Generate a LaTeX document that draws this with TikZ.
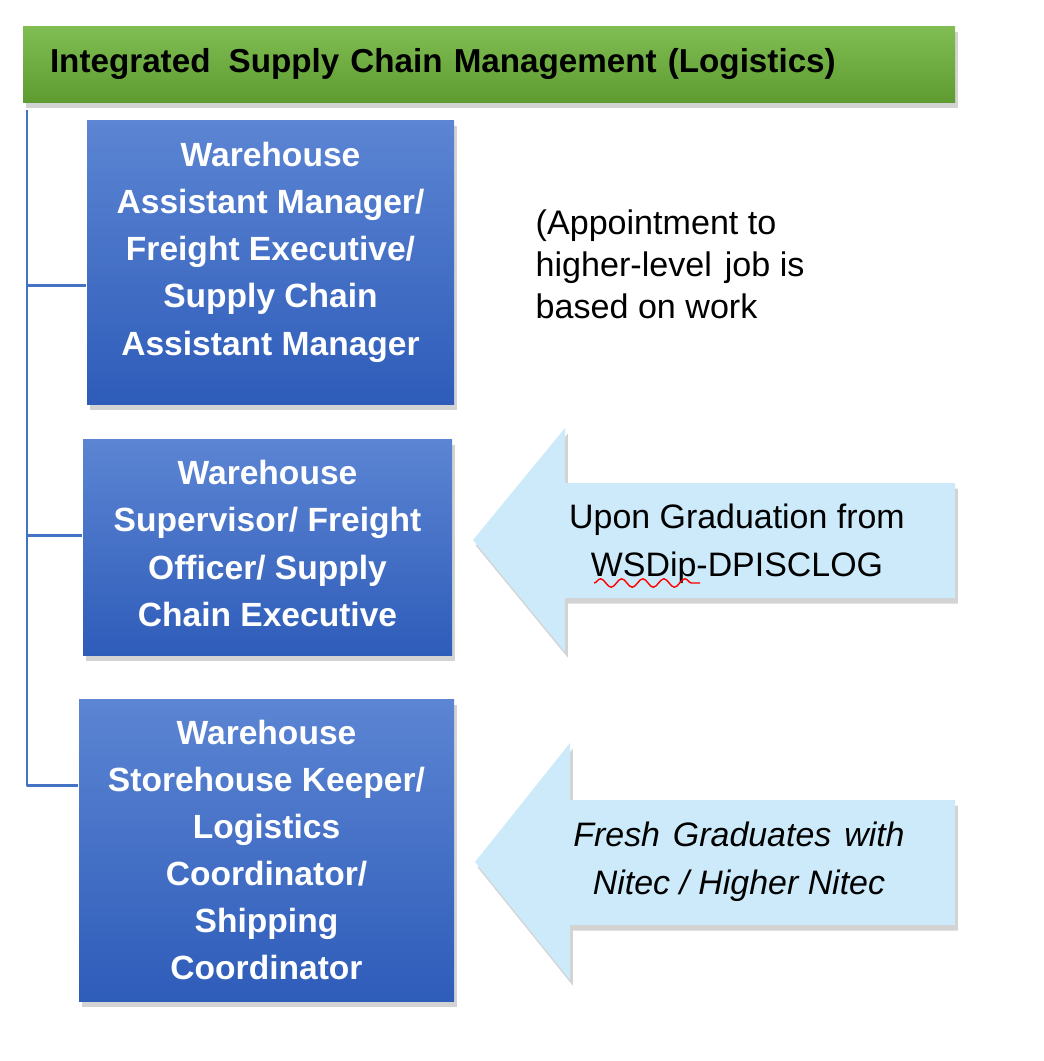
\documentclass[tikz,border=0pt]{standalone}
\usepackage{fontspec}
\setmainfont{Liberation Sans}
\usetikzlibrary{shadows,decorations.pathmorphing}

\definecolor{hdrtop}{HTML}{80BE53}
\definecolor{hdrbot}{HTML}{5E9C32}
\definecolor{boxtop}{HTML}{5C85D3}
\definecolor{boxbot}{HTML}{2E5CB9}
\definecolor{arrowfill}{HTML}{CCEAF9}
\definecolor{linkblue}{HTML}{4472C4}

\tikzset{
  softshadow/.style={drop shadow={shadow xshift=.8pt, shadow yshift=-1.6pt, opacity=.35}},
  hdrbar/.style={rectangle, top color=hdrtop, bottom color=hdrbot, softshadow,
    minimum width=93.2mm, minimum height=7.6mm, text width=87.8mm, inner xsep=2.7mm,
    align=left, font=\fontsize{9.45}{11}\selectfont\bfseries},
  jobbox/.style={rectangle, top color=boxtop, bottom color=boxbot, softshadow,
    text=white, align=center, inner sep=0pt,
    font=\fontsize{9.55}{13.4}\selectfont\bfseries},
  link/.style={draw=linkblue, line width=.85pt, line join=round},
  pointer/.style={fill=arrowfill, softshadow}
}

\begin{document}
\begin{tikzpicture}[x=0.1mm,y=-0.1mm]
  \useasboundingbox (0,0) rectangle (1044,1061);

  % header and job boxes
  \node[hdrbar] (hdr) at (489,64) {Integrated\hspace{2pt} Supply Chain Management (Logistics)};

  \begin{scope}[every node/.style={jobbox}]
    \node[minimum width=36.7mm, minimum height=28.4mm] (mgr) at (270.5,262)
      {Warehouse\\Assistant Manager/\\Freight Executive/\\Supply Chain\\Assistant Manager\\[-5.8pt]\mbox{}};
    \node[minimum width=36.9mm, minimum height=21.6mm] (sup) at (267.5,547)
      {Warehouse\\Supervisor/ Freight\\Officer/ Supply\\Chain Executive\\[-11.3pt]\mbox{}};
    \node[minimum width=37.5mm, minimum height=30.2mm] (kpr) at (266.5,850)
      {Warehouse\\Storehouse Keeper/\\Logistics\\Coordinator/\\Shipping\\Coordinator};
  \end{scope}

  % tree lines
  \coordinate (top) at (27,110);
  \coordinate (t1) at (27,285);
  \coordinate (t2) at (27,535);
  \coordinate (t3) at (27,785);
  \draw[link] (top) -- (t3) -- (t3 -| kpr.west);
  \draw[link] (t1) -- (t1 -| mgr.west);
  \draw[link] (t2) -- (t2 -| sup.west);

  % entry arrows
  \path[pointer] (955,483) -- (565,483) -- (565,428) -- (473,540)
    -- (565,652) -- (565,598) -- (955,598) -- cycle;
  \path[pointer] (955,800) -- (570,800) -- (570,743) -- (475,862)
    -- (570,980) -- (570,925) -- (955,925) -- cycle;

  \begin{scope}[every node/.style={align=center, font=\fontsize{9.65}{13.7}\selectfont}]
    \node (grad) at (737,544) {Upon Graduation from\\WSDip-DPISCLOG};
    \node (fresh) at (739,862) {\itshape Fresh\hspace{1pt} Graduates\hspace{1pt} with\\\itshape Nitec / Higher Nitec};
  \end{scope}
  \draw[red, line width=.4pt, decorate, decoration={snake, amplitude=1.2, segment length=6}]
    (594,583) -- (700,583);

  \node[anchor=north west, inner sep=0pt, align=left, font=\fontsize{9.7}{11.9}\selectfont]
    (note) at (535,209) {(Appointment to\\higher-level\hspace{1pt} job is\\based on work};
\end{tikzpicture}
\end{document}
